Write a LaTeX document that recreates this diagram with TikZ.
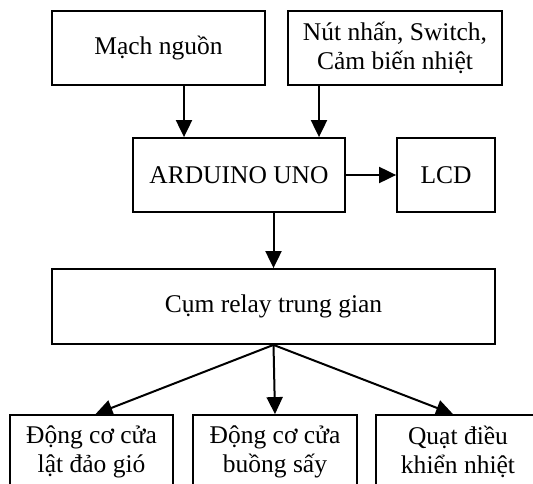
\documentclass[tikz,border=0pt]{standalone}
\usepackage{fontspec}
\setmainfont{Liberation Serif}
\usetikzlibrary{arrows.meta}
\tikzset{blk/.style={draw,line width=1.8bp,align=center,inner sep=0pt,
    font=\fontsize{25.5bp}{29bp}\selectfont,minimum height=74bp},
  arr/.style={line width=2bp,-{Triangle[length=17bp,width=16bp]}}}

\begin{document}
\begin{tikzpicture}[x=1bp,y=-1bp]
            \clip (0,0) rectangle (533,484);
            \node [blk,minimum width=213bp] (nguon) at (158.5,48) {Mạch nguồn};
            \node [blk,minimum width=214bp] (input) at (395,48) {Nút nhấn, Switch,\\Cảm biến nhiệt};
            \node [blk,minimum width=212bp] (uno) at (239,175) {ARDUINO UNO};
            \node [blk,minimum width=98bp] (lcd) at (446,175) {LCD};
            \node [blk,minimum width=443bp,minimum height=75bp] (relay) at (273.5,306.5) {Cụm relay trung gian};
            %ba khoi cuoi bi cat o mep duoi
            \node [blk,minimum width=163bp] (dc1) at (91.5,452) {Động cơ cửa\\lật đảo gió};
            \node [blk,minimum width=164bp] (dc2) at (275,452) {Động cơ cửa\\buồng sấy};
            \node [blk,minimum width=164bp] (quat) at (458,452) {Quạt điều\\khiển nhiệt};
            \draw [arr] (nguon.south -| 184,0) -- (uno.north -| 184,0);
            \draw [arr] (input.south -| 319,0) -- (uno.north -| 319,0);
            \draw [arr] (uno.east) -- (lcd.west);
            \draw [arr] (uno.south -| relay.north) -- (relay.north);
            \draw [arr] (relay.south) -- ([xshift=4bp]dc1.north);
            \draw [arr] (relay.south) -- (dc2.north);
            \draw [arr] (relay.south) -- ([xshift=-5bp]quat.north);
        \end{tikzpicture}
\end{document}
